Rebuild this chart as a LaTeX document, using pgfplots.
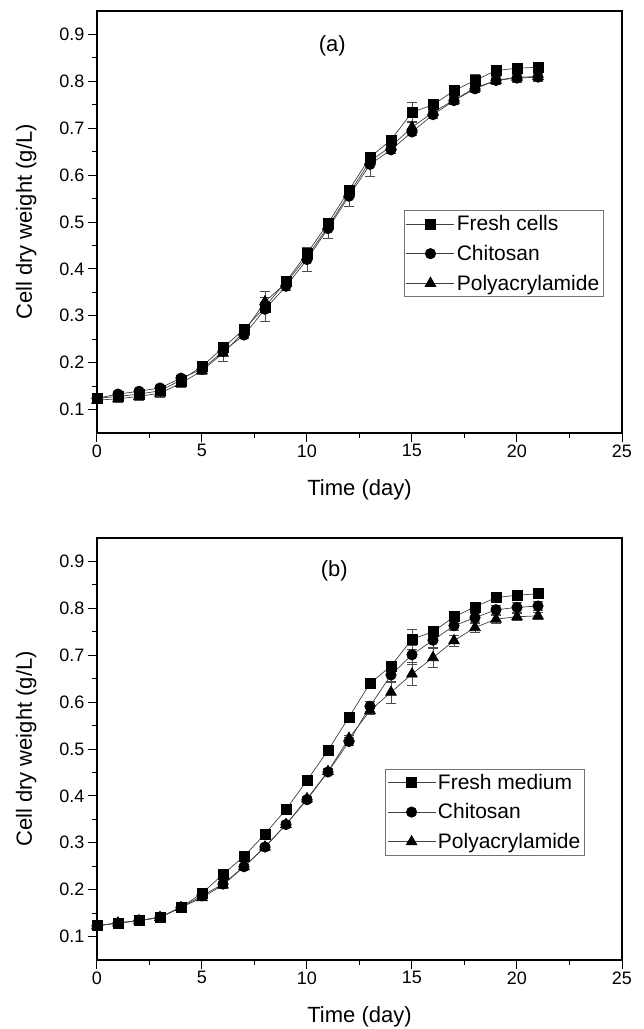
\documentclass[border=0pt]{standalone}
\usepackage{fontspec}
\setmainfont{Liberation Sans}
\usepackage{pgfplots}
\pgfplotsset{compat=1.18}

\pgfplotsset{
  growth/.style={
    scale only axis, width=525pt, height=422pt,
    xmin=0, xmax=25, ymin=0.05, ymax=0.95,
    xtick={0,5,...,25}, ytick={0.1,0.2,...,0.9},
    minor x tick num=1, minor y tick num=1,
    xtick pos=left, ytick pos=left, tick align=outside,
    major tick length=9pt, minor tick length=5pt,
    every tick/.style={black, line width=1pt},
    axis line style={line width=1.3pt},
    ticklabel style={font=\fontsize{18}{21}\selectfont},
    xticklabel style={yshift=1pt},
    /pgf/number format/assume math mode=true,
    yticklabel style={/pgf/number format/.cd, fixed, fixed zerofill, precision=1},
    label style={font=\fontsize{22}{26}\selectfont},
    xlabel={Time (day)}, ylabel={Cell dry weight (g/L)},
    xlabel style={at={(axis description cs:0.5,-0.135)}, anchor=center},
    ylabel style={at={(axis description cs:-0.135,0.5)}, anchor=center},
    legend style={draw=black!55, line width=0.6pt, font=\fontsize{21}{25}\selectfont,
      inner xsep=2pt, inner ysep=3pt, row sep=9pt},
    legend cell align=left,
    legend image code/.code={\draw[mark repeat=2, mark phase=2]
      plot coordinates {(0pt,0pt) (24pt,0pt) (48pt,0pt)};},
  },
  ser/.style={black!75, line width=0.7pt,
      mark options={fill=black, draw=black, solid},
      error bars/y dir=both, error bars/y explicit,
      error bars/error mark options={rotate=90, mark size=5pt, black!70, line width=0.6pt},
      error bars/error bar style={black!70, line width=0.6pt}},
  sq/.style={ser, mark=square*, mark size=5pt},
  ci/.style={ser, mark=*, mark size=5.2pt},
  tr/.style={ser, mark=triangle*, mark size=6.2pt},
}

\begin{document}
\begin{tikzpicture}
\useasboundingbox (-97pt,11pt) rectangle (547pt,-1018pt);

% ---- (a) ----
\begin{axis}[growth, at={(0pt,0pt)}, anchor=north west,
  legend style={at={(axis cs:24.12,0.525)}, anchor=north east}]
\addplot[sq] table[x=x, y=y, y error=e] {
x y e
0 0.124 0.004
1 0.128 0.004
2 0.133 0.004
3 0.140 0.004
4 0.163 0.005
5 0.192 0.006
6 0.232 0.006
7 0.271 0.008
8 0.319 0.010
9 0.373 0.008
10 0.433 0.008
11 0.497 0.008
12 0.568 0.008
13 0.638 0.010
14 0.675 0.010
15 0.734 0.022
16 0.750 0.012
17 0.780 0.010
18 0.802 0.012
19 0.823 0.010
20 0.828 0.010
21 0.830 0.010
};
\addlegendentry{Fresh cells}
\addplot[ci] table[x=x, y=y, y error=e] {
x y e
0 0.124 0.004
1 0.133 0.004
2 0.139 0.004
3 0.146 0.004
4 0.167 0.005
5 0.186 0.006
6 0.224 0.006
7 0.259 0.008
8 0.314 0.025
9 0.363 0.008
10 0.420 0.025
11 0.486 0.020
12 0.555 0.022
13 0.623 0.025
14 0.654 0.008
15 0.692 0.008
16 0.729 0.008
17 0.759 0.008
18 0.784 0.008
19 0.802 0.008
20 0.807 0.008
21 0.809 0.008
};
\addlegendentry{Chitosan}
\addplot[tr] table[x=x, y=y, y error=e] {
x y e
0 0.120 0.004
1 0.123 0.008
2 0.128 0.008
3 0.135 0.008
4 0.156 0.008
5 0.183 0.008
6 0.220 0.018
7 0.266 0.008
8 0.330 0.022
9 0.370 0.008
10 0.426 0.008
11 0.490 0.008
12 0.560 0.008
13 0.630 0.008
14 0.661 0.008
15 0.702 0.012
16 0.734 0.008
17 0.760 0.008
18 0.786 0.008
19 0.802 0.008
20 0.809 0.008
21 0.810 0.008
};
\addlegendentry{Polyacrylamide}
\node[font=\fontsize{22}{26}\selectfont] at (axis cs:11.2,0.875) {(a)};
\end{axis}

% ---- (b) ----
\begin{axis}[growth, at={(0pt,-527pt)}, anchor=north west,
  legend style={at={(axis cs:23.22,0.458)}, anchor=north east}]
\addplot[sq] table[x=x, y=y, y error=e] {
x y e
0 0.123 0.004
1 0.129 0.004
2 0.134 0.004
3 0.141 0.004
4 0.163 0.005
5 0.192 0.005
6 0.233 0.006
7 0.271 0.006
8 0.319 0.006
9 0.371 0.006
10 0.433 0.006
11 0.497 0.006
12 0.568 0.010
13 0.640 0.010
14 0.677 0.010
15 0.734 0.022
16 0.750 0.012
17 0.782 0.010
18 0.803 0.010
19 0.823 0.010
20 0.828 0.010
21 0.831 0.010
};
\addlegendentry{Fresh medium}
\addplot[ci] table[x=x, y=y, y error=e] {
x y e
0 0.123 0.004
1 0.129 0.004
2 0.134 0.004
3 0.141 0.004
4 0.162 0.005
5 0.187 0.005
6 0.212 0.006
7 0.249 0.006
8 0.291 0.006
9 0.339 0.006
10 0.392 0.006
11 0.451 0.006
12 0.516 0.008
13 0.591 0.010
14 0.658 0.015
15 0.701 0.020
16 0.732 0.015
17 0.763 0.010
18 0.780 0.010
19 0.797 0.010
20 0.802 0.010
21 0.805 0.010
};
\addlegendentry{Chitosan}
\addplot[tr] table[x=x, y=y, y error=e] {
x y e
0 0.123 0.006
1 0.129 0.006
2 0.134 0.006
3 0.141 0.006
4 0.162 0.006
5 0.183 0.006
6 0.210 0.006
7 0.249 0.006
8 0.291 0.006
9 0.339 0.006
10 0.394 0.006
11 0.452 0.006
12 0.523 0.006
13 0.582 0.008
14 0.621 0.023
15 0.660 0.025
16 0.695 0.020
17 0.731 0.012
18 0.759 0.010
19 0.777 0.008
20 0.782 0.008
21 0.784 0.008
};
\addlegendentry{Polyacrylamide}
\node[font=\fontsize{22}{26}\selectfont] at (axis cs:11.3,0.88) {(b)};
\end{axis}
\end{tikzpicture}
\end{document}
